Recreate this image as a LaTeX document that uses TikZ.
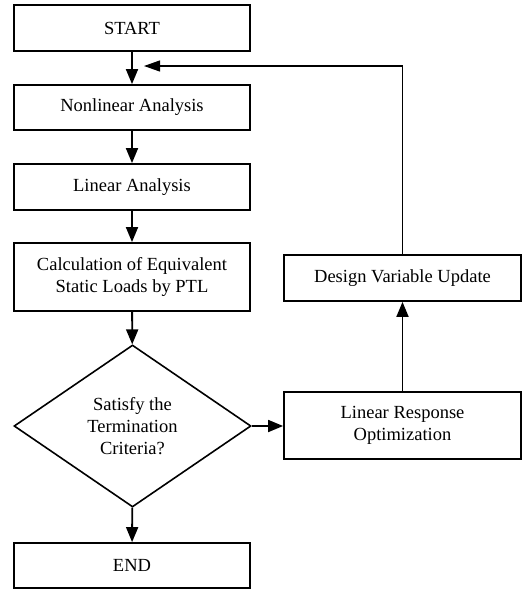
\documentclass[tikz,border=0pt]{standalone}
\usepackage{fontspec}
\setmainfont{Liberation Serif}
\usetikzlibrary{shapes.geometric,arrows.meta}
\begin{document}
\begin{tikzpicture}[x=1pt,y=-1pt,
  box/.style={draw,line width=1.8pt,rectangle,inner sep=2pt,align=center,font=\fontsize{18.5}{22.5}\selectfont},
  dec/.style={draw,line width=1.6pt,diamond,inner sep=0pt,aspect=1.46,minimum width=237pt,minimum height=162pt,align=center,font=\fontsize{18.5}{22}\selectfont},
  arr/.style={line width=1.8pt,-{Triangle[length=15pt,width=12pt]}},
  fbarr/.style={line width=1.2pt,-{Triangle[length=16pt,width=11pt]}}]
\useasboundingbox (0,0) rectangle (522,590);
\node[box,minimum width=236pt,minimum height=46pt] (start) at (132,28) {START};
\node[box,minimum width=236pt,minimum height=45pt] (nl) at (132,107.5) {Nonlinear Analysis};
\node[box,minimum width=236pt,minimum height=46pt] (la) at (132,187) {Linear Analysis};
\node[box,minimum width=236pt,minimum height=68pt] (calc) at (132,277) {Calculation of Equivalent\\Static Loads by PTL};
\node[dec] (crit) at (132.5,426) {Satisfy the\\Termination\\Criteria?};
\node[box,minimum width=236pt,minimum height=45pt] (end) at (132,565.5) {END};
\node[box,minimum width=237pt,minimum height=46pt] (dvu) at (402.5,278) {Design Variable Update};
\node[box,minimum width=237pt,minimum height=67pt] (lro) at (402.5,425.5) {Linear Response\\Optimization};
\coordinate (fb) at (144,66);
\draw[arr] (start) -- (nl);
\draw[arr] (nl) -- (la);
\draw[arr] (la) -- (calc);
\draw[arr] (calc) -- (crit);
\draw[arr] (crit) -- (end);
\draw[arr] (crit.east) -- (lro.west |- crit.east);
\draw[arr] (lro) -- (dvu);
\draw[fbarr] (dvu.north) |- (fb);
\end{tikzpicture}
\end{document}
